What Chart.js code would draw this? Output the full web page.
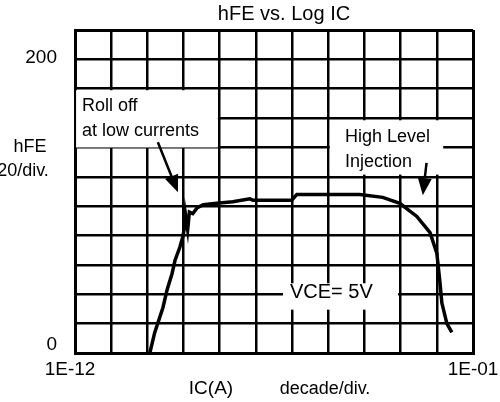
<!DOCTYPE html>
<html><head><meta charset="utf-8">
<script src="https://cdn.jsdelivr.net/npm/chart.js@4"></script>
<style>html,body{margin:0;padding:0;background:#fff}#wrap{width:500px;height:402px;position:relative}</style>
</head><body><div id="wrap"><canvas id="c" width="500" height="402"></canvas></div>
<script>
// Collector current IC (A), log axis
const icValues = [1.17e-10, 1.6e-10, 2.7e-10, 3.5e-10, 4.8e-10, 5.8e-10, 7.9e-10, 9.5e-10,
  1.05e-9, 1.12e-9, 1.3e-9, 1.45e-9, 1.8e-9, 2.4e-9, 3.5e-9, 8.3e-9, 2.3e-8, 6.8e-8, 8.3e-8,
  9.8e-7, 1.35e-6, 7.4e-5, 3.2e-4, 9.5e-4, 2.8e-3, 6.5e-3, 1.0e-2, 1.2e-2, 1.38e-2, 1.9e-2, 2.6e-2];
// Current gain hFE
const hfeValues = [0, 14, 31, 43, 54, 63, 72, 79,
  85, 95, 84, 96, 95, 99, 101, 102, 103, 105, 104,
  104, 108, 108, 106, 102, 93, 82, 68, 50, 34, 20, 14];
const xTickValues = [1e-12, 1e-11, 1e-10, 1e-9, 1e-8, 1e-7, 1e-6, 1e-5, 1e-4, 1e-3, 1e-2, 1e-1];
const xTickLabels = ['1E-12', '', '', '', '', '', '', '', '', '', '', '1E-01'];
const yTickValues = [0, 200];
const yTickLabels = ['0', '200'];
const titleText = 'hFE vs. Log IC';
const xAxisTitle = 'IC(A)';
const xAxisUnit = 'decade/div.';
const yAxisTitle = ['hFE', '20/div.'];
const noteRoll = ['Roll off', 'at low currents'];
const noteHigh = ['High Level', 'Injection'];
const noteVce = 'VCE= 5V';

const FONT = '"Liberation Sans", Arial, Helvetica, sans-serif';

const annot = {
  id: 'annot',
  beforeDatasetsDraw(chart) {
    const ctx = chart.ctx, x = chart.scales.x, y = chart.scales.y;
    const px = v => x.getPixelForValue(v), py = v => y.getPixelForValue(v);
    ctx.save();
    ctx.fillStyle = '#fff';
    // label backgrounds
    ctx.fillRect(px(1.07e-12), py(179), px(8.9e-9) - px(1.07e-12), py(140) - py(179));
    ctx.fillRect(px(1.1e-5), py(158.5), px(1.5e-2) - px(1.1e-5), py(121.5) - py(158.5));
    ctx.fillRect(px(5.6e-7), py(47.5), px(8.5e-4) - px(5.6e-7), py(29.5) - py(47.5));
    ctx.fillStyle = '#000';
    ctx.font = '18px ' + FONT;
    ctx.textAlign = 'left'; ctx.textBaseline = 'middle';
    ctx.fillText(noteRoll[0], px(1.55e-12), py(168));
    ctx.fillText(noteRoll[1], px(1.55e-12), py(151));
    ctx.fillText(noteHigh[0], px(2.9e-5), py(147));
    ctx.fillText(noteHigh[1], px(2.9e-5), py(130));
    ctx.font = '20px ' + FONT;
    ctx.fillText(noteVce, px(8.7e-7), py(41));
    ctx.restore();
  },
  afterDraw(chart) {
    const ctx = chart.ctx, x = chart.scales.x, y = chart.scales.y, a = chart.chartArea;
    const px = v => x.getPixelForValue(v), py = v => y.getPixelForValue(v);
    ctx.save();
    ctx.fillStyle = '#000'; ctx.strokeStyle = '#000';
    ctx.font = '20px ' + FONT;
    ctx.textBaseline = 'middle';
    // title
    ctx.textAlign = 'center';
    ctx.fillText(titleText, (a.left + a.right) / 2 + 10, 14);
    // y ticks
    ctx.font = '19px ' + FONT;
    ctx.textAlign = 'right';
    ctx.fillText(yTickLabels[1], a.left - 18, py(yTickValues[1]) - 2);
    ctx.fillText(yTickLabels[0], a.left - 18, py(yTickValues[0]) - 8);
    // y axis title
    ctx.font = '18px ' + FONT;
    ctx.textAlign = 'center';
    ctx.fillText(yAxisTitle[0], 30, 147);
    ctx.fillText(yAxisTitle[1], 23, 171);
    // x ticks
    ctx.font = '19px ' + FONT;
    xTickLabels.forEach((t, i) => {
      if (!t) return;
      const off = i === 0 ? -5 : 0;
      ctx.fillText(t, px(xTickValues[i]) + off, 370);
    });
    ctx.font = '19px ' + FONT;
    ctx.fillText(xAxisTitle, 211, 389);
    ctx.font = '18px ' + FONT;
    ctx.fillText(xAxisUnit, 325, 389);
    // arrows
    const arrow = (x1, y1, x2, y2) => {
      ctx.lineWidth = 2.5;
      const ang = Math.atan2(y2 - y1, x2 - x1);
      const hl = 17, hw = 7;
      const bx = x2 - hl * Math.cos(ang), by = y2 - hl * Math.sin(ang);
      ctx.beginPath(); ctx.moveTo(x1, y1); ctx.lineTo(bx, by); ctx.stroke();
      ctx.beginPath();
      ctx.moveTo(x2, y2);
      ctx.lineTo(bx + hw * Math.sin(ang), by - hw * Math.cos(ang));
      ctx.lineTo(bx - hw * Math.sin(ang), by + hw * Math.cos(ang));
      ctx.closePath(); ctx.fill();
    };
    arrow(px(1.95e-10), py(143.5), px(7.0e-10), py(109.5));
    arrow(px(5.2e-3), py(129.5), px(4.1e-3), py(107.5));
    ctx.restore();
  }
};

new Chart(document.getElementById('c'), {
  type: 'line',
  data: {
    datasets: [{
      data: icValues.map((v, i) => ({ x: v, y: hfeValues[i] })),
      borderColor: '#000', borderWidth: 3.5, pointRadius: 0, tension: 0, fill: false
    }]
  },
  options: {
    responsive: false, animation: false, devicePixelRatio: 1,
    layout: { padding: { left: 75, right: 27, top: 30, bottom: 49 } },
    plugins: { legend: { display: false }, title: { display: false }, tooltip: { enabled: false } },
    scales: {
      x: {
        type: 'logarithmic', min: 1e-12, max: 1e-1,
        afterBuildTicks: s => { s.ticks = xTickValues.map(v => ({ value: v })); },
        afterFit: s => { s.height = 0; },
        ticks: { display: false },
        grid: { color: '#000', lineWidth: c => (c.index === 0 || c.index === xTickValues.length - 1) ? 3 : 2.5, drawTicks: false },
        border: { display: true, color: '#000', width: 3 }
      },
      y: {
        min: 0, max: 220,
        ticks: { display: false, stepSize: 20 },
        afterFit: s => { s.width = 0; },
        grid: { color: '#000', lineWidth: c => (c.index === 0 || c.index === 11) ? 3 : 2.5, drawTicks: false },
        border: { display: true, color: '#000', width: 3 }
      }
    }
  },
  plugins: [annot]
});
</script>
</body></html>
